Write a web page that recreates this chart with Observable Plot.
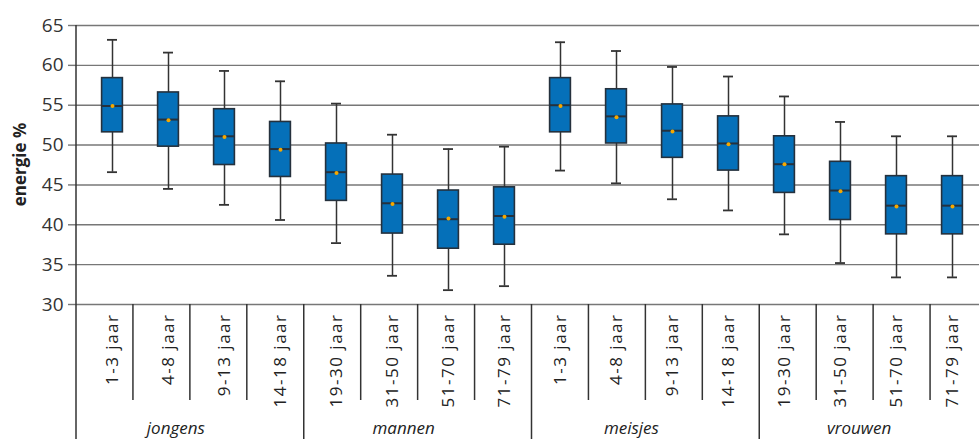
<!DOCTYPE html>
<html>
<head>
<meta charset="utf-8">
<script src="https://cdn.jsdelivr.net/npm/d3@7"></script>
<script src="https://cdn.jsdelivr.net/npm/@observablehq/plot@0.6"></script>
<style>
  html, body { margin: 0; padding: 0; background: #fff; overflow: hidden; }
</style>
</head>
<body>
<div id="chart"></div>
<script>
const groups = ["jongens", "mannen", "meisjes", "vrouwen"];
const ages = [
  "1-3 jaar", "4-8 jaar", "9-13 jaar", "14-18 jaar",
  "19-30 jaar", "31-50 jaar", "51-70 jaar", "71-79 jaar",
  "1-3 jaar", "4-8 jaar", "9-13 jaar", "14-18 jaar",
  "19-30 jaar", "31-50 jaar", "51-70 jaar", "71-79 jaar"
];
const groupOf = [0,0,0,0, 1,1,1,1, 2,2,2,2, 3,3,3,3];
const lower  = [46.6, 44.5, 42.5, 40.6, 37.7, 33.6, 31.8, 32.3, 46.8, 45.2, 43.2, 41.8, 38.8, 35.2, 33.4, 33.4];
const q1     = [51.6, 49.8, 47.5, 46.0, 43.0, 38.9, 37.0, 37.5, 51.6, 50.2, 48.4, 46.8, 44.0, 40.6, 38.8, 38.8];
const median = [54.9, 53.2, 51.1, 49.5, 46.6, 42.7, 40.7, 41.1, 55.0, 53.6, 51.8, 50.2, 47.6, 44.3, 42.4, 42.4];
const mean   = [54.9, 53.1, 51.0, 49.4, 46.5, 42.6, 40.8, 41.0, 54.9, 53.5, 51.7, 50.1, 47.6, 44.2, 42.3, 42.3];
const q3     = [58.4, 56.6, 54.5, 52.9, 50.2, 46.3, 44.3, 44.7, 58.4, 57.0, 55.1, 53.6, 51.1, 47.9, 46.1, 46.1];
const upper  = [63.2, 61.6, 59.3, 58.0, 55.2, 51.3, 49.5, 49.8, 62.9, 61.8, 59.8, 58.6, 56.1, 52.9, 51.1, 51.1];
const yTicks = [30, 35, 40, 45, 50, 55, 60, 65];
const yLabel = "energie %";

const rows = ages.map((a, i) => ({
  k: i, age: a, group: groups[groupOf[i]],
  lower: lower[i], q1: q1[i], median: median[i], mean: mean[i], q3: q3[i], upper: upper[i]
}));

const FONT = "'Open Sans', 'Noto Sans', sans-serif";
const boxFill = "#0570b9";
const dark = "#25313d";
const boxInset = 17.6;
const capInset = 23;

const plot = Plot.plot({
  width: 979,
  height: 439,
  marginLeft: 76,
  marginRight: 0,
  marginTop: 25,
  marginBottom: 135,
  style: { fontFamily: FONT, color: "#333", background: "#fff", overflow: "visible" },
  x: { domain: d3.range(ages.length), range: [76, 987], padding: 0, label: null },
  y: { domain: [30, 65], ticks: yTicks, label: null },
  marks: [
    Plot.ruleY(yTicks, { stroke: "#777", strokeWidth: 1.4 }),
    Plot.axisY({ ticks: yTicks, tickSize: 8, tickPadding: 5, stroke: "#777", strokeWidth: 1.4, fill: "#333", fontSize: 19, label: null }),
    Plot.axisX({ tickSize: 0, tickPadding: 9, tickRotate: -90, fontSize: 17, fill: "#222", label: null, tickFormat: i => ages[i] }),
    Plot.ruleX(rows, { x: "k", y1: "lower", y2: "upper", stroke: "#333", strokeWidth: 1.5 }),
    Plot.tickY(rows, { x: "k", y: "lower", insetLeft: capInset, insetRight: capInset, stroke: "#333", strokeWidth: 1.8 }),
    Plot.tickY(rows, { x: "k", y: "upper", insetLeft: capInset, insetRight: capInset, stroke: "#333", strokeWidth: 1.8 }),
    Plot.barY(rows, { x: "k", y1: "q1", y2: "q3", insetLeft: boxInset, insetRight: boxInset, fill: boxFill, stroke: dark, strokeWidth: 1.6 }),
    Plot.tickY(rows, { x: "k", y: "median", insetLeft: boxInset, insetRight: boxInset, stroke: dark, strokeWidth: 2 }),
    Plot.dot(rows, { x: "k", y: "mean", r: 2, fill: "#f5a800", stroke: "none" })
  ]
});

document.getElementById("chart").appendChild(plot);

const svg = d3.select(plot);
// wider tracking on the rotated category labels, like the reference typeface
svg.selectAll('g[aria-label="x-axis tick label"] text').style("letter-spacing", "1.5px");

// Structural lines and group labels, positioned from the plot's own scales
const xs = plot.scale("x");
const ys = plot.scale("y");
const x0 = xs.range[0];
const step = (xs.range[1] - xs.range[0]) / ages.length;
const yTop = ys.apply(65);
const yBottom = ys.apply(30);
const g = svg.append("g").attr("stroke", "#333").attr("stroke-width", 1.5);

// left axis line
g.append("line").attr("x1", x0).attr("x2", x0).attr("y1", yTop).attr("y2", 439);

// category separators
for (let i = 1; i < ages.length; i++) {
  const xe = x0 + i * step;
  const isGroup = groupOf[i] !== groupOf[i - 1];
  g.append("line").attr("x1", xe).attr("x2", xe)
    .attr("y1", yBottom).attr("y2", isGroup ? 439 : yBottom + 96);
}

// group labels
groups.forEach((name, gi) => {
  const idx = groupOf.map((v, i) => v === gi ? i : -1).filter(i => i >= 0);
  const cx = x0 + (idx[0] + idx[idx.length - 1] + 1) / 2 * step - 14;
  svg.append("text").attr("x", cx).attr("y", 434)
    .attr("text-anchor", "middle").attr("font-style", "italic")
    .attr("font-size", 17).attr("fill", "#222").attr("font-family", FONT)
    .text(name);
});

// y label
svg.append("text")
  .attr("transform", `translate(19,${(yTop + yBottom) / 2}) rotate(-90)`)
  .attr("text-anchor", "middle").attr("dominant-baseline", "central")
  .attr("font-weight", "bold").attr("font-size", 17).attr("fill", "#222").attr("font-family", FONT)
  .text(yLabel);
</script>
</body>
</html>
